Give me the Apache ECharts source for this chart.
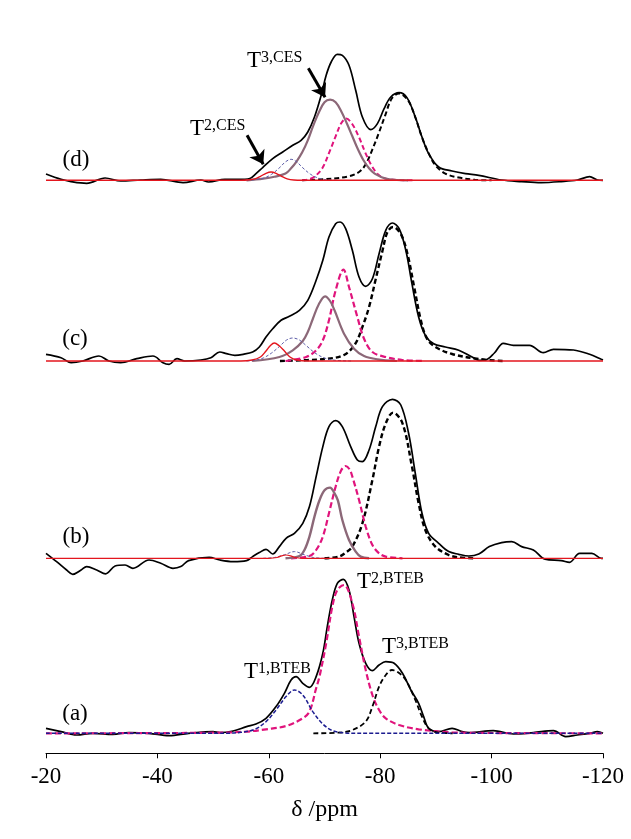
<!DOCTYPE html>
<html>
<head>
<meta charset="utf-8">
<script src="https://cdn.jsdelivr.net/npm/echarts@6/dist/echarts.min.js"></script>
<style>
  html, body { margin: 0; padding: 0; background: #fff; }
  #chart { width: 631px; height: 839px; }
</style>
</head>
<body>
<div id="chart"></div>
<script>
// x = chemical shift (ppm), y = intensity (arbitrary units, per panel)
var xTicks = [-20, -40, -60, -80, -100, -120];

// panel (d)
var dExp = [[-20,6.3],[-22.7,1],[-24.5,-1.3],[-27.3,-3],[-30.6,2.3],[-33.4,-0.7],[-37,0.3],[-40.6,1],[-44.6,-2.3],[-47.8,0.3],[-49.2,-1.7],[-52.1,1],[-55.7,1],[-56.6,1.7],[-57.7,6.7],[-58.9,12.7],[-60.7,21.7],[-62.5,28.3],[-64.3,35],[-65.8,40],[-67,48.3],[-68.2,63.3],[-69.4,85],[-70.3,105],[-71.2,118.3],[-72.3,126],[-73.2,125],[-74.4,115],[-75.6,90],[-76.8,63.3],[-78.3,50.7],[-79.5,56.7],[-80.7,71.7],[-81.9,83.3],[-83.4,87.7],[-84.8,82.7],[-86.3,63.3],[-87.5,43.3],[-88.7,26.7],[-90.5,13.3],[-92.9,9.3],[-95.3,6.7],[-97.7,5],[-101.8,0.3],[-105.4,-1.3],[-108.9,-2.3],[-112.5,-1.3],[-115.4,0.3],[-117.6,3.7],[-119,0.3],[-120,0]];
var dRed = [[-20,0],[-55,0],[-56.5,0.5],[-57.5,1.5],[-58.5,4],[-59.5,7],[-60.4,8.3],[-61.3,7],[-62.3,4],[-63.3,1.5],[-64.5,0.3],[-66,0],[-120,0]];
var dBlue = [[-56,0],[-57.5,0.7],[-59,2],[-60.5,6],[-62,13],[-63,18.5],[-64,21],[-65,18.5],[-66,13],[-67.5,6],[-69,2],[-70.5,0.5],[-72,0]];
var dMauve = [[-56,0],[-59,1.7],[-61,3.5],[-63,6.7],[-64,12],[-65,19],[-66,28],[-67,40],[-68,55],[-69,68],[-70,78],[-71,80.7],[-72,78],[-73,69],[-74,57],[-75,44],[-76,31],[-77,20],[-78,12],[-79,6.7],[-81,1.7],[-83,0.3],[-85,0]];
var dMagenta = [[-66,0],[-67.5,1.5],[-68.5,5],[-69.7,13],[-71,30],[-72,44],[-73,57],[-73.9,61.7],[-75,56],[-76.2,43],[-77.4,26.7],[-78.6,13.3],[-79.8,5],[-81,1.7],[-83,0.3],[-86,0]];
var dBlack = [[-66,0],[-71.4,1.7],[-74.4,4],[-76.2,8.3],[-77.4,16],[-78.6,31],[-79.8,48],[-80.9,65],[-82.1,82],[-83.4,86.7],[-85,80],[-86.3,63],[-87.5,43],[-88.7,27],[-89.9,15],[-91.7,6.7],[-94.1,2.7],[-97,0.5],[-100,0]];

// panel (c)
var cExp = [[-20,6.7],[-22.7,3.3],[-24.5,-1.7],[-26.6,0],[-29.5,5],[-31.3,0],[-33.4,-1.7],[-36.3,2.3],[-39.2,5],[-41,-1.7],[-42.1,-3.3],[-43.5,2.3],[-44.9,0],[-47.8,1],[-49.6,3.3],[-51.2,9],[-52.4,7.3],[-53.9,5.7],[-55.4,6.7],[-57.1,9],[-58.3,14],[-59.5,24],[-60.7,32.3],[-62.2,40.7],[-63.7,44.7],[-65.5,50.7],[-67,60.7],[-68.5,80.7],[-69.7,100.7],[-70.8,124],[-72,137.3],[-72.8,139],[-73.8,132.3],[-75,110.7],[-76.2,84],[-77.4,74.7],[-78.6,82.3],[-79.8,107.3],[-81,130.7],[-82.2,138],[-83.4,132.3],[-84.6,110.7],[-85.7,77.3],[-86.9,44],[-88.1,25.7],[-89.6,17.3],[-91.7,14],[-94.1,10.7],[-96.5,4],[-97.7,0.7],[-98.9,1],[-100.5,8],[-102.1,17.7],[-103.9,15.7],[-106.8,15.7],[-109.3,8.3],[-111.1,11.7],[-114.7,11],[-117.6,6.7],[-119.7,1.7],[-120,1]];
var cRed = [[-20,0],[-55,0],[-57,1],[-58.5,4],[-59.5,10],[-60.3,15.5],[-61,18],[-61.8,15.5],[-62.8,10],[-63.8,4],[-65,1],[-67,0],[-120,0]];
var cBlue = [[-56,0],[-57.5,0.7],[-59,3],[-60.5,8],[-62,15],[-63.2,21],[-64.3,23],[-65.5,21],[-66.8,15],[-68.3,8],[-70,3],[-72,0.7],[-75,0]];
var cMauve = [[-57,0],[-61.9,4],[-64.3,10.7],[-66.1,20],[-67,29],[-67.9,42],[-69,57],[-70.1,64.7],[-71,60],[-71.8,50.7],[-73.5,27.3],[-75.3,12.3],[-77.1,5],[-79.5,1.7],[-83,0]];
var cMagenta = [[-63,0],[-66.7,4],[-68.5,10.7],[-69.7,20.7],[-70.8,40.7],[-72,70.7],[-73.4,91.3],[-74.4,74],[-75.9,44],[-77.1,22.3],[-78.6,9],[-81,4],[-84,1],[-88,0]];
var cBlack = [[-62,0],[-70,2],[-73.5,6],[-75.5,17],[-76.8,34],[-78,54],[-79.2,82],[-80.4,110],[-81.3,129],[-82.3,134],[-83.7,127],[-84.9,107],[-86.1,74],[-87.3,40.7],[-88.4,22.3],[-89.9,14],[-92.9,7],[-97.7,2],[-102,0]];

// panel (b)
var bExp = [[-20,5],[-21.9,-3.3],[-23.7,-11.7],[-24.8,-16],[-26.3,-11.7],[-27.3,-8.3],[-29.1,-11.7],[-30.7,-15.5],[-32.4,-7.7],[-34.2,-6.7],[-35.6,-10],[-38.5,-1.7],[-40.6,-5],[-42.8,-10],[-44.2,-8.3],[-45.6,-2.3],[-49.3,1],[-51.2,-1.7],[-53.6,-3.3],[-56,-2.3],[-57.1,1.7],[-58.3,5.7],[-59.5,9],[-60.7,4.3],[-61.9,11.7],[-63.1,20],[-64.6,25],[-66.1,35],[-67.3,51.7],[-68.5,81.7],[-69.7,111.7],[-70.8,131.7],[-72,137.7],[-73.2,131.7],[-74.7,111.7],[-75.9,98.3],[-76.8,96.7],[-78,108.3],[-79.2,131.7],[-80.4,151.7],[-82.2,159],[-83.7,153.3],[-85.1,125],[-86.3,85],[-87.5,45],[-88.7,25],[-90.5,15],[-92.3,6.7],[-94.1,4],[-95.9,2.3],[-97.7,4.3],[-99.6,11.7],[-101.8,15.7],[-103.6,16.7],[-105.4,11.7],[-107.5,8.3],[-109.6,-1],[-112.5,-2.3],[-114,-4],[-115.8,5],[-118,5],[-119.7,0],[-120,0]];
var bRed = [[-20,0],[-60,0],[-61.5,0.8],[-62.3,2.5],[-63.1,3.3],[-63.9,2.5],[-64.7,0.8],[-66,0],[-120,0]];
var bBlue = [[-59,0],[-61,0.8],[-62.8,3.5],[-64.6,6.7],[-66.4,3.5],[-68,0.8],[-70,0]];
var bMauve = [[-63,0],[-65.5,2.3],[-66.4,8.3],[-67.3,21.7],[-68.2,41.7],[-69.1,58],[-70,68],[-71,70.7],[-71.7,66],[-72.4,58],[-73.2,38.3],[-74.4,18.3],[-75.6,6.7],[-76.5,1.7],[-78,0]];
var bMagenta = [[-64,0],[-67.3,2.3],[-68.5,8.3],[-69.7,21.7],[-70.8,45],[-72,71.7],[-73,88],[-73.8,92.3],[-74.5,89],[-75,81.7],[-76.2,58.3],[-77.4,31.7],[-78.6,13.3],[-79.8,5],[-81,1.7],[-84,0]];
var bBlack = [[-70,0],[-72.6,1.7],[-73.8,5.7],[-75,11.7],[-76.8,35],[-78.6,78.3],[-79.8,111.7],[-81,135],[-82.3,145.7],[-84,135],[-85.7,91.7],[-86.9,55],[-88.1,28.3],[-89.9,11.7],[-92.3,3.3],[-94.1,1],[-97,0]];

// panel (a)
var aExp = [[-20,5],[-22.7,1.7],[-25.5,-1.7],[-28.4,0],[-32,-1],[-34.9,0.7],[-38.5,0],[-42.1,-2.3],[-45.6,0],[-50,1.7],[-51.2,0.7],[-53.6,2.3],[-56,6.7],[-57.7,9.3],[-59.5,15],[-61.3,26.7],[-62.8,40],[-64,53.3],[-64.9,56.7],[-66.1,50],[-67.3,46],[-68.5,56.7],[-69.7,80],[-70.5,106.7],[-71.4,133.3],[-72.3,150],[-73.4,154],[-74.4,143.3],[-75.3,116.7],[-76.2,90],[-77.4,70],[-78.6,62.7],[-79.8,68.3],[-81,71.7],[-82.5,70],[-84,60],[-85.5,43.3],[-86.9,30],[-87.8,16.7],[-88.7,5],[-90.5,1.7],[-92.9,5],[-94.7,1.7],[-96,0.7],[-100.3,2.7],[-103.9,-0.7],[-107.5,0.7],[-111.1,2.7],[-113.3,-3.3],[-115.4,-1.7],[-117.6,0],[-119,1.7],[-120,0]];
var aBlue = [[-20,0],[-52,0],[-55,1],[-57.5,4],[-59.5,11.7],[-61.3,23.3],[-63.1,36.7],[-64.6,43.3],[-66.1,38.3],[-67.9,21.7],[-69.7,9.3],[-71.4,2.7],[-73.5,0.5],[-76,0],[-120,0]];
var aPink = [[-20,0],[-40,0.2],[-51.2,0.7],[-56,1.7],[-59.5,4],[-63.1,7.3],[-66.1,15],[-67.3,21.7],[-68.5,45],[-69.1,56.7],[-70.3,90],[-71.4,126.7],[-72.3,143.3],[-73.5,148.3],[-75,130],[-76.2,96.7],[-77.4,63.3],[-78.6,38.3],[-79.8,23.3],[-81,15],[-83.4,8.3],[-86.9,4],[-92.9,1],[-100,0.3],[-120,0]];
var aBlack = [[-68,0],[-72.6,0.7],[-75,3.3],[-77.4,11.7],[-78.6,26.7],[-79.8,46.7],[-81,58.3],[-82.1,63.3],[-83.2,61],[-84.6,53.3],[-86.3,33.3],[-87.5,16.7],[-88.7,5],[-90.5,0.7],[-93,0]];

// arrows in panel (d): [start, end]
var arrowT3ces = [[-67.1, 112], [-70.1, 83]];
var arrowT2ces = [[-56.1, 45], [-59.0, 16]];

var SERIF = '"Liberation Serif", "Times New Roman", serif';
var MAGENTA = '#e0147c', MAUVE = '#8c6878', RED = '#e3161e', SLATE = '#5c5ca8', NAVY = '#1c1c90';

var chart = echarts.init(document.getElementById('chart'));

// grids share x range; each y axis keeps 1 unit ~ 1 px
var panels = [
    { top: 30.3, min: -30, max: 150 },   // (d)
    { top: 201, min: -20, max: 160 },    // (c)
    { top: 383.3, min: -25, max: 175 },  // (b)
    { top: 553.3, min: -20, max: 180 }   // (a)
];

var grids = [], xAxes = [], yAxes = [];
panels.forEach(function(p, i) {
    grids.push({ left: 46, right: 28, top: p.top, height: p.max - p.min });
    yAxes.push({ gridIndex: i, type: 'value', min: p.min, max: p.max, show: false });
    var last = i === panels.length - 1;
    xAxes.push({
        gridIndex: i, type: 'value', min: -120, max: -20, interval: 20, inverse: true,
        show: last,
        splitLine: { show: false },
        axisLine: { show: true, onZero: false, lineStyle: { color: '#000', width: 1 } },
        axisTick: { show: true, inside: false, length: 5, lineStyle: { color: '#000' } },
        axisLabel: { color: '#000', fontSize: 23, fontFamily: SERIF, margin: 12 },
        name: last ? 'δ /ppm' : '',
        nameLocation: 'middle',
        nameGap: 44,
        nameTextStyle: { color: '#000', fontSize: 24, fontFamily: SERIF }
    });
});

function line(data, gi, color, width, dash, z) {
    return {
        type: 'line', data: data, xAxisIndex: gi, yAxisIndex: gi,
        showSymbol: false, symbol: 'none', smooth: 0.35, clip: false, z: z,
        lineStyle: { color: color, width: width, type: dash || 'solid' }
    };
}

var series = [
    // (d)
    line(dExp, 0, '#000', 1.7, null, 2),
    line(dBlack, 0, '#000', 2, [5, 3], 3),
    line(dMagenta, 0, MAGENTA, 2, [5, 3], 4),
    line(dMauve, 0, MAUVE, 2.2, null, 5),
    line(dBlue, 0, SLATE, 1, [3, 2], 6),
    line(dRed, 0, RED, 1.4, null, 7),
    // (c)
    line(cExp, 1, '#000', 1.7, null, 2),
    line(cBlack, 1, '#000', 2.4, [5, 3], 3),
    line(cMagenta, 1, MAGENTA, 2.2, [6, 3], 4),
    line(cMauve, 1, MAUVE, 2.2, null, 5),
    line(cBlue, 1, SLATE, 1, [3, 2], 6),
    line(cRed, 1, RED, 1.4, null, 7),
    // (b)
    line(bExp, 2, '#000', 1.7, null, 2),
    line(bBlack, 2, '#000', 2.4, [5, 3], 3),
    line(bMagenta, 2, MAGENTA, 2.2, [6, 3], 4),
    line(bMauve, 2, MAUVE, 2.4, null, 5),
    line(bBlue, 2, SLATE, 1, [3, 2], 6),
    line(bRed, 2, RED, 1.2, null, 7),
    // (a)
    line(aExp, 3, '#000', 1.7, null, 2),
    line(aPink, 3, MAGENTA, 2.2, [6, 3], 3),
    line(aBlack, 3, '#000', 1.8, [5, 3], 4),
    line(aBlue, 3, NAVY, 1.5, [4, 2], 5)
];

// arrows pointing at the CES components
series[0].markLine = {
    silent: true,
    symbol: ['none', 'arrow'],
    symbolSize: 13,
    label: { show: false },
    lineStyle: { color: '#000', width: 3, type: 'solid' },
    data: [
        [{ coord: arrowT3ces[0] }, { coord: arrowT3ces[1] }],
        [{ coord: arrowT2ces[0] }, { coord: arrowT2ces[1] }]
    ]
};

function supLabel(x, y, base, sup) {
    return {
        type: 'text', x: x, y: y, z: 20,
        style: {
            text: '{t|' + base + '}{s|' + sup + '}',
            verticalAlign: 'middle',
            fill: '#000',
            rich: {
                t: { fontSize: 23, fontFamily: SERIF, fill: '#000' },
                s: { fontSize: 16, fontFamily: SERIF, fill: '#000', verticalAlign: 'top' }
            }
        }
    };
}

function panelLabel(x, y, txt) {
    return {
        type: 'text', x: x, y: y, z: 20,
        style: { text: txt, fontSize: 23, fontFamily: SERIF, fill: '#000', align: 'center', verticalAlign: 'middle' }
    };
}

chart.setOption({
    backgroundColor: '#fff',
    animation: false,
    grid: grids,
    xAxis: xAxes,
    yAxis: yAxes,
    series: series,
    graphic: [
        panelLabel(76, 160, '(d)'),
        panelLabel(75, 339, '(c)'),
        panelLabel(76, 537, '(b)'),
        panelLabel(75, 714, '(a)'),
        supLabel(247, 61, 'T', '3,CES'),
        supLabel(190, 129, 'T', '2,CES'),
        supLabel(357, 582, 'T', '2,BTEB'),
        supLabel(382, 647, 'T', '3,BTEB'),
        supLabel(244, 672, 'T', '1,BTEB')
    ]
});
</script>
</body>
</html>
